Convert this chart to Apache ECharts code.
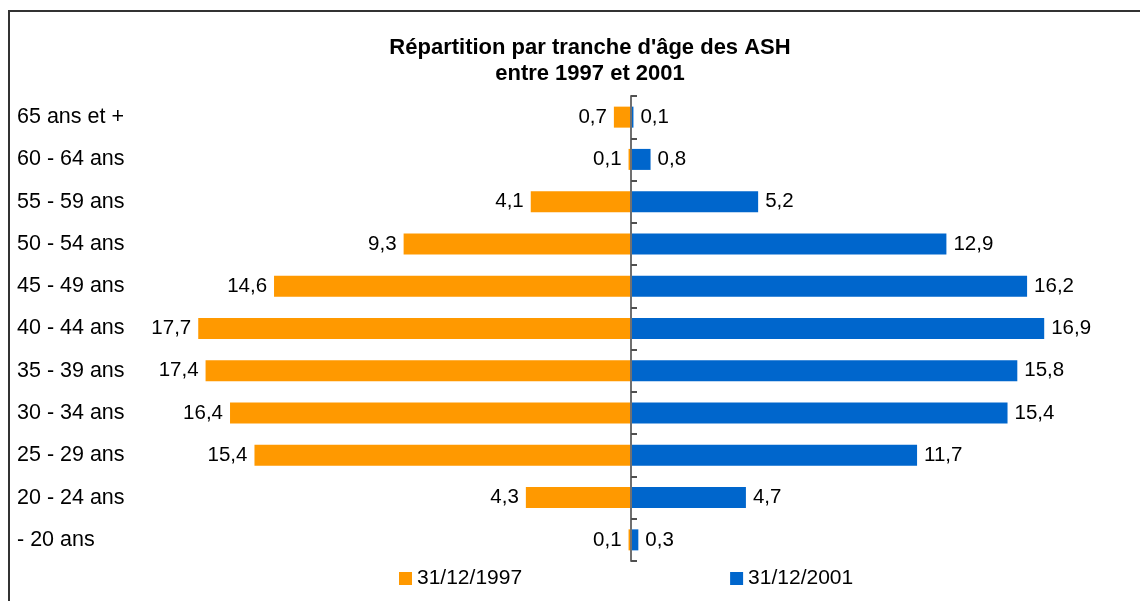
<!DOCTYPE html>
<html>
<head>
<meta charset="utf-8">
<script src="https://cdn.jsdelivr.net/npm/echarts@6/dist/echarts.min.js"></script>
<style>html,body{margin:0;padding:0;background:#fff}#c{width:1140px;height:601px}</style>
</head>
<body>
<div id="c"></div>
<script>
const categories = ['65 ans et +','60 - 64 ans','55 - 59 ans','50 - 54 ans','45 - 49 ans','40 - 44 ans','35 - 39 ans','30 - 34 ans','25 - 29 ans','20 - 24 ans','- 20 ans'];
const values1997 = [0.7,0.1,4.1,9.3,14.6,17.7,17.4,16.4,15.4,4.3,0.1];
const values2001 = [0.1,0.8,5.2,12.9,16.2,16.9,15.8,15.4,11.7,4.7,0.3];
const seriesNames = ['31/12/1997','31/12/2001'];
const titleLines = ["Répartition par tranche d'âge des ASH", 'entre 1997 et 2001'];

const FONT = '"Liberation Sans", Arial, sans-serif';
const fmt = p => Math.abs(p.value).toFixed(1).replace('.', ',');
const chart = echarts.init(document.getElementById('c'), null, {renderer:'canvas'});
chart.setOption({
  animation: false,
  backgroundColor: '#fff',
  textStyle: {fontFamily: FONT},
  title: {
    text: titleLines.join('\n'),
    left: 585, top: 30, textAlign: 'center',
    textStyle: {fontFamily: FONT, fontWeight: 'bold', fontSize: 22, lineHeight: 26, color: '#000'}
  },
  graphic: [{
    type: 'rect', shape: {x: 9, y: 11, width: 1140, height: 600},
    style: {fill: 'none', stroke: '#333', lineWidth: 2}, silent: true, z: -1
  }],
  legend: {
    data: seriesNames, left: 399, top: 568, padding: 0, itemWidth: 13, itemHeight: 13, itemGap: 208,
    icon: 'rect', textStyle: {fontFamily: FONT, fontSize: 21, color: '#000'}
  },
  grid: {left: 142, right: 20, top: 96, bottom: 40},
  xAxis: {type: 'value', min: -20, max: 20, show: false, splitLine: {show: false}},
  yAxis: [{
    type: 'category', data: categories, inverse: true, position: 'left',
    axisLine: {show: true, onZero: true, lineStyle: {color: '#707070', width: 2}},
    axisTick: {show: true, inside: true, length: 6, lineStyle: {color: '#505050', width: 2}},
    axisLabel: {show: false}, z: 10
  }, {
    type: 'category', data: categories, inverse: true, position: 'left',
    axisLine: {show: false}, axisTick: {show: false},
    axisLabel: {align: 'left', margin: 125, fontFamily: FONT, fontSize: 21.5, color: '#000'}
  }],
  series: [{
    name: seriesNames[0], type: 'bar', yAxisIndex: 0,
    data: values1997.map(v => -v), barWidth: 21, barGap: '-100%',
    itemStyle: {color: '#FF9900'},
    label: {show: true, position: 'left', distance: 7, formatter: fmt, fontFamily: FONT, fontSize: 20.5, color: '#000'}
  }, {
    name: seriesNames[1], type: 'bar', yAxisIndex: 0,
    data: values2001, barWidth: 21, barGap: '-100%',
    itemStyle: {color: '#0066CC'},
    label: {show: true, position: 'right', distance: 7, formatter: fmt, fontFamily: FONT, fontSize: 20.5, color: '#000'}
  }]
});
</script>
</body>
</html>
